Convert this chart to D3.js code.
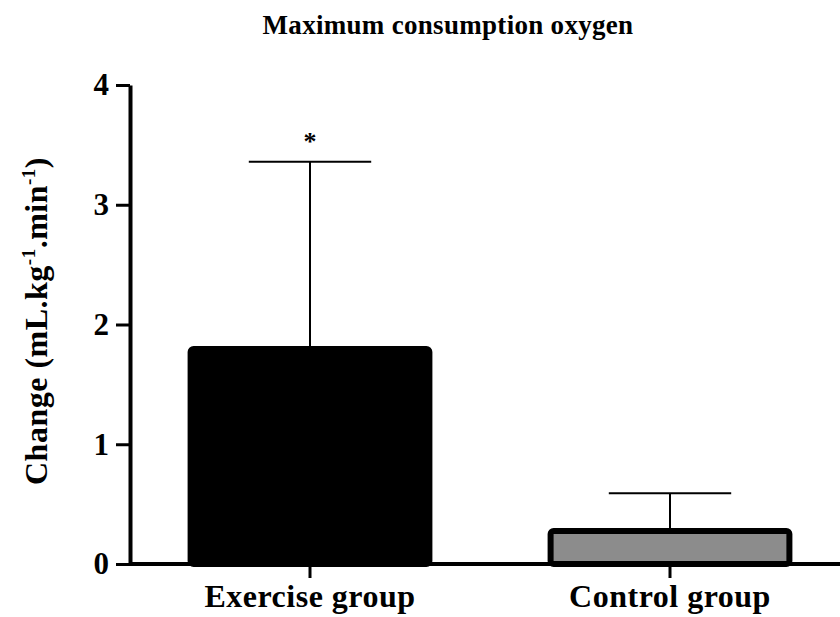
<!DOCTYPE html>
<html>
<head>
<meta charset="utf-8">
<script src="https://cdn.jsdelivr.net/npm/d3@7"></script>
<style>
  body { margin: 0; background: #fff; }
  text { font-family: "Liberation Serif", "Times New Roman", serif; font-weight: bold; }
</style>
</head>
<body>
<div id="chart"></div>
<script>
var width = 840
var height = 617

var groups = ["Exercise group", "Control group"]
var means = [1.82, 0.30]
var errs = [1.54, 0.29]
var fills = ["#000000", "#8c8c8c"]
var marks = ["*", ""]
var yticks = [0, 1, 2, 3, 4]

var svg = d3.select("#chart").append("svg")
    .attr("width", width)
    .attr("height", height);

var x = d3.scaleBand()
    .domain(groups)
    .range([130, 850])
    .paddingInner(0.32)
    .paddingOuter(0.16);

var y = d3.scaleLinear()
    .domain([0, 4])
    .range([564, 85]);

// bars
svg.selectAll(".bar")
    .data(groups)
    .enter().append("rect")
    .attr("class", "bar")
    .attr("x", function(d) { return x(d) + 3; })
    .attr("y", function(d, i) { return y(means[i]) + 3; })
    .attr("width", x.bandwidth() - 6)
    .attr("height", function(d, i) { return y(0) - y(means[i]) - 3; })
    .attr("rx", 3)
    .attr("fill", function(d, i) { return fills[i]; })
    .attr("stroke", "#000")
    .attr("stroke-width", 6);

// error bars (upper only)
var eb = svg.selectAll(".err")
    .data(groups)
    .enter().append("g")
    .attr("class", "err");

eb.append("line")
    .attr("x1", function(d) { return x(d) + x.bandwidth() / 2; })
    .attr("x2", function(d) { return x(d) + x.bandwidth() / 2; })
    .attr("y1", function(d, i) { return y(means[i]); })
    .attr("y2", function(d, i) { return y(means[i] + errs[i]); })
    .attr("stroke", "#000")
    .attr("stroke-width", 2);

eb.append("line")
    .attr("x1", function(d) { return x(d) + x.bandwidth() / 4; })
    .attr("x2", function(d) { return x(d) + x.bandwidth() * 3 / 4; })
    .attr("y1", function(d, i) { return y(means[i] + errs[i]); })
    .attr("y2", function(d, i) { return y(means[i] + errs[i]); })
    .attr("stroke", "#000")
    .attr("stroke-width", 2);

svg.selectAll(".mark")
    .data(groups)
    .enter().append("text")
    .attr("class", "mark")
    .attr("x", function(d) { return x(d) + x.bandwidth() / 2; })
    .attr("y", function(d, i) { return y(means[i] + errs[i]) - 12; })
    .attr("text-anchor", "middle")
    .attr("font-size", "26px")
    .attr("font-weight", "normal")
    .text(function(d, i) { return marks[i]; });

// axes
var yAxis = svg.append("g")
    .attr("transform", "translate(130,0)")
    .call(d3.axisLeft(y).tickValues(yticks).tickFormat(d3.format("d")).tickSize(14).tickSizeOuter(0));

var xAxis = svg.append("g")
    .attr("transform", "translate(0,564)")
    .call(d3.axisBottom(x).tickSize(14).tickSizeOuter(0));

svg.selectAll(".domain").attr("stroke-width", 4);
svg.selectAll(".tick line").attr("stroke-width", 3);
yAxis.selectAll("text").attr("font-size", "31px").attr("fill", "#000").attr("dx", "-4");
xAxis.selectAll("text").attr("font-size", "32px").attr("fill", "#000")
    .attr("letter-spacing", "0.5px").attr("y", 43).attr("dy", 0);

// x domain should run to the right edge
xAxis.select(".domain").attr("d", "M130,0H840");

// title
svg.append("text")
    .attr("x", 448)
    .attr("y", 34)
    .attr("text-anchor", "middle")
    .attr("font-size", "27px")
    .attr("letter-spacing", "0.3px")
    .text("Maximum consumption oxygen");

// y label
var ylab = svg.append("text")
    .attr("transform", "translate(47,321) rotate(-90)")
    .attr("text-anchor", "middle")
    .attr("font-size", "32px")
    .attr("letter-spacing", "0.5px");
ylab.append("tspan").text("Change (mL.kg");
ylab.append("tspan").attr("font-size", "19px").attr("dy", "-12").text("-1");
ylab.append("tspan").attr("dy", "12").text(".min");
ylab.append("tspan").attr("font-size", "19px").attr("dy", "-12").text("-1");
ylab.append("tspan").attr("dy", "12").text(")");
</script>
</body>
</html>
